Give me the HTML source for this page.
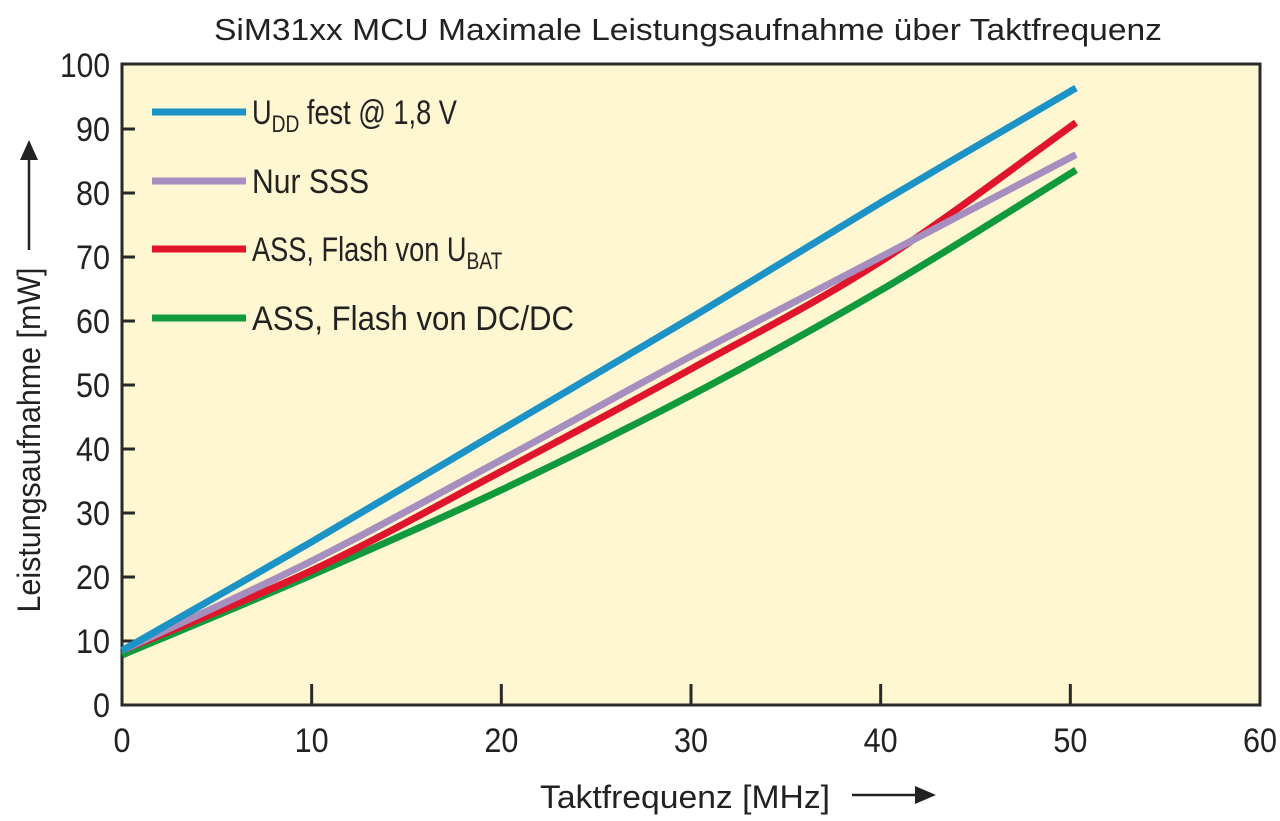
<!DOCTYPE html>
<html><head><meta charset="utf-8"><style>
html,body{margin:0;padding:0;background:#fff;}
svg{display:block;font-family:"Liberation Sans",sans-serif;}
</style></head><body>
<svg id="chart" width="1280" height="821" viewBox="0 0 1280 821">
<text x="688" y="40" font-size="31" text-anchor="middle" textLength="948" lengthAdjust="spacingAndGlyphs" fill="#222">SiM31xx MCU Maximale Leistungsaufnahme über Taktfrequenz</text>
<rect x="122" y="64" width="1138" height="641" fill="#fef7d2" stroke="#2a2a2a" stroke-width="3"/>
<g id="ticks"></g>
<g id="series"></g>
<g id="legend"></g>
<text transform="translate(40,440) rotate(-90)" font-size="32" text-anchor="middle" textLength="345" lengthAdjust="spacingAndGlyphs" fill="#222">Leistungsaufnahme [mW]</text>
<g><line x1="29" y1="250" x2="29" y2="155" stroke="#222" stroke-width="2.5"/><polygon points="20,160 38,160 29,140" fill="#222"/></g>
<text x="540" y="808" font-size="32" textLength="290" lengthAdjust="spacingAndGlyphs" fill="#222">Taktfrequenz [MHz]</text>
<g><line x1="852" y1="795" x2="920" y2="795" stroke="#222" stroke-width="2.5"/><polygon points="915,786 915,804 936,795" fill="#222"/></g>
</svg>
<script>
const xTicks=[0,10,20,30,40,50,60];
const yTicks=[0,10,20,30,40,50,60,70,80,90,100];
const xs=[0,10,20,30,40,50.3];
const blue=[8.5,25.5,43,60.5,78.5,96.4];
const purple=[8.5,22.5,38.3,54.5,70,86];
const red=[8.5,21,36.5,52.5,69.3,91];
const green=[7.8,20.3,33.6,48.4,64.8,83.6];
const names=["U_DD fest @ 1,8 V","Nur SSS","ASS, Flash von U_BAT","ASS, Flash von DC/DC"];
const NS="http://www.w3.org/2000/svg";
const X=v=>122+v*(1138/60), Y=v=>705-v*6.4;
const tg=document.getElementById('ticks');
function mk(tag,attrs,parent){const e=document.createElementNS(NS,tag);for(const k in attrs)e.setAttribute(k,attrs[k]);parent.appendChild(e);return e;}
xTicks.forEach(t=>{
  if(t>0&&t<60){const l=mk('line',{x1:X(t),x2:X(t),y1:705,y2:684,stroke:'#2a2a2a','stroke-width':3},tg);
  
  }
  const tx=mk('text',{x:X(t),y:752,'font-size':34,'text-anchor':'middle',fill:'#222',textLength:t<10?17:34,lengthAdjust:'spacingAndGlyphs'},tg);
  
  
  tx.textContent=t;
});
yTicks.forEach(t=>{
  if(t>0&&t<100){const l=mk('line',{x1:122,x2:135,y1:Y(t),y2:Y(t),stroke:'#2a2a2a','stroke-width':3},tg);
  
  }
  const tx=mk('text',{x:110,y:Y(t)+12,'font-size':34,'text-anchor':'end',fill:'#222',textLength:t<10?17:(t<100?34:50),lengthAdjust:'spacingAndGlyphs'},tg);
  
  
  tx.textContent=t;
});
function pathFor(vals){
  const p=xs.map((x,i)=>[X(x),Y(vals[i])]);
  let d=`M${p[0][0]},${p[0][1]}`;
  for(let i=0;i<p.length-1;i++){
    const p0=p[Math.max(0,i-1)],p1=p[i],p2=p[i+1],p3=p[Math.min(p.length-1,i+2)];
    const c1=[p1[0]+(p2[0]-p0[0])/6,p1[1]+(p2[1]-p0[1])/6];
    const c2=[p2[0]-(p3[0]-p1[0])/6,p2[1]-(p3[1]-p1[1])/6];
    d+=` C${c1[0]},${c1[1]} ${c2[0]},${c2[1]} ${p2[0]},${p2[1]}`;
  }
  return d;
}
const sg=document.getElementById('series');
const series=[[green,'#119a3c','series-dcdc'],[red,'#e0142a','series-ubat'],[purple,'#a68fbf','series-sss'],[blue,'#1c93c6','series-udd']];
series.forEach(s=>{
  const e=mk('path',{d:pathFor(s[0]),fill:'none',stroke:s[1],'stroke-width':7},sg);
  
  
});
const lg=document.getElementById('legend');
const lcols=['#1c93c6','#a68fbf','#e0142a','#119a3c'];
const ly=[112,181,249,318];
names.forEach((n,i)=>{
  const l=mk('line',{x1:152,x2:246,y1:ly[i],y2:ly[i],stroke:lcols[i],'stroke-width':7},lg);
  
  
  const t=mk('text',{x:252,y:ly[i]+12,'font-size':34,fill:'#222'},lg);
  
  
  const parts=n.split('_');
  if(parts.length===1){t.textContent=n;t.setAttribute('textLength',[0,117,0,322][i]);t.setAttribute('lengthAdjust','spacingAndGlyphs');}
  else{
    const pre=mk('tspan',{},t);pre.textContent=parts[0];
    const sub=parts[1].match(/^[A-Z]+/)[0];
    const s=mk('tspan',{dy:8,'font-size':24},t);s.textContent=sub;
    const rest=parts[1].slice(sub.length);
    if(rest){const r=mk('tspan',{dy:-8},t);r.textContent=rest;}
    t.setAttribute('transform',`translate(${252*0.2},0) scale(0.8,1)`);
  }
});
</script>
</body></html>
